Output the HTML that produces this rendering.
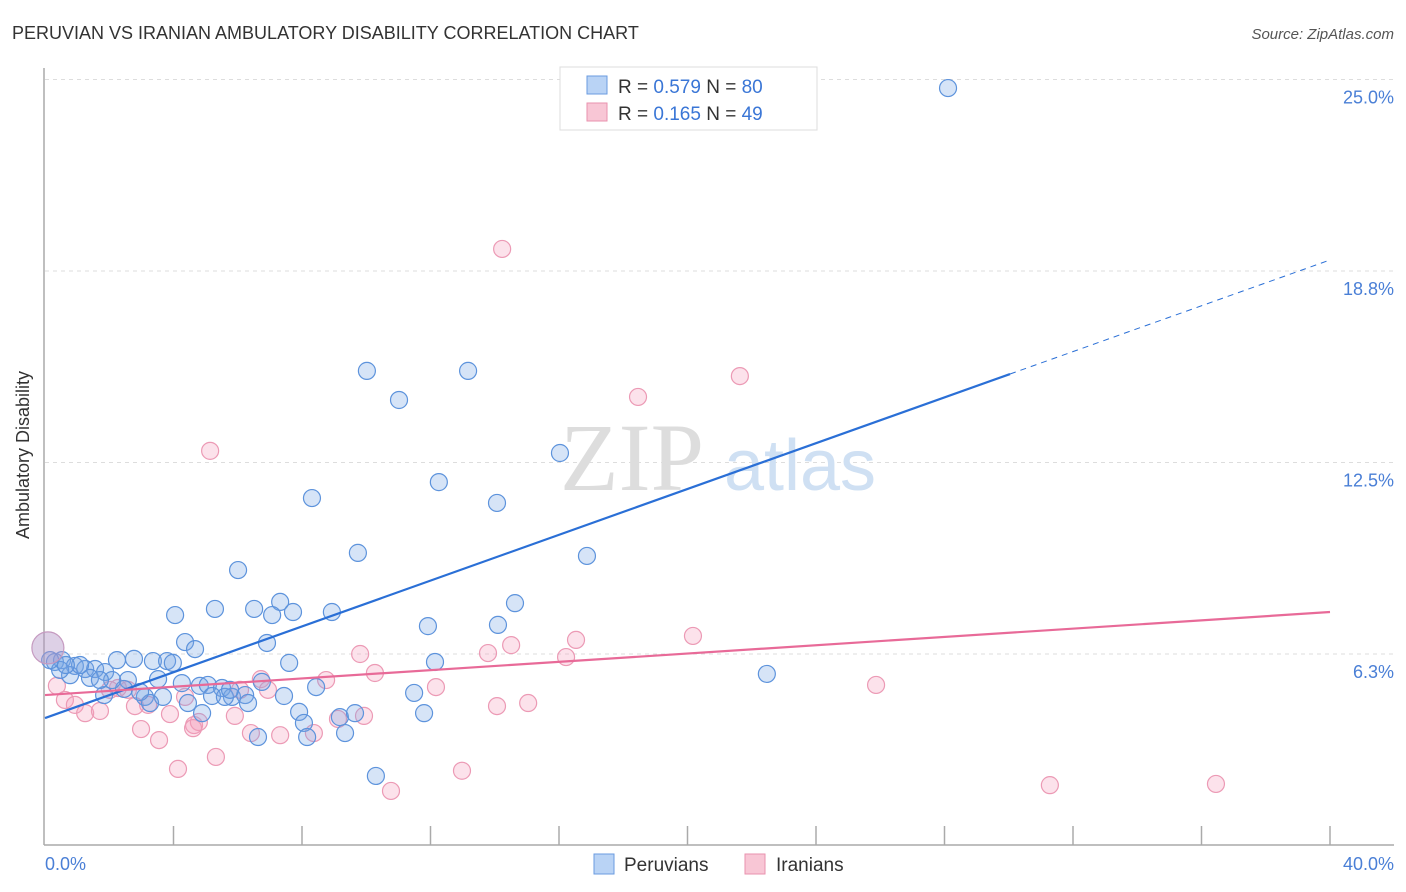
<!DOCTYPE html>
<html><head><meta charset="utf-8"><style>
body{margin:0;background:#fff;font-family:"Liberation Sans",sans-serif}
svg{display:block}
</style></head><body>
<svg width="1406" height="892">
<text x="12" y="39" font-size="18" fill="#333">PERUVIAN VS IRANIAN AMBULATORY DISABILITY CORRELATION CHART</text>
<text x="1394" y="39" font-size="15" fill="#555" font-style="italic" text-anchor="end">Source: ZipAtlas.com</text>
<g id="grid"></g>
<text x="632" y="490" font-size="96" fill="#ddd" font-family="Liberation Serif,serif" text-anchor="middle">ZIP</text>
<text x="800" y="490" font-size="72" fill="#cfe0f3" text-anchor="middle">atlas</text>
<g id="pts"></g>
<g id="lines"></g>
<text x="29" y="455" font-size="18" fill="#333" text-anchor="middle" transform="rotate(-90 29 455)">Ambulatory Disability</text>
<text x="45" y="870" font-size="18" fill="#4a7fd6">0.0%</text>
<text x="1394" y="870" font-size="18" fill="#4a7fd6" text-anchor="end">40.0%</text>
<g>
<rect x="560" y="67" width="257" height="63" fill="#fff" stroke="#ddd"/>
<rect x="587" y="76" width="20" height="18" fill="#b9d3f5" stroke="#6a9be0"/>
<rect x="587" y="103" width="20" height="18" fill="#f8c6d5" stroke="#e992ae"/>
<text x="618" y="93" font-size="19" fill="#333">R = <tspan fill="#3a76d6">0.579</tspan>   N = <tspan fill="#3a76d6">80</tspan></text>
<text x="618" y="120" font-size="19" fill="#333">R =  <tspan fill="#3a76d6">0.165</tspan>   N = <tspan fill="#3a76d6">49</tspan></text>
</g>
<g>
<rect x="594" y="854" width="20" height="20" fill="#b9d3f5" stroke="#6a9be0"/>
<text x="624" y="871" font-size="19" fill="#333">Peruvians</text>
<rect x="745" y="854" width="20" height="20" fill="#f8c6d5" stroke="#e992ae"/>
<text x="776" y="871" font-size="19" fill="#333">Iranians</text>
</g>
</svg>
<script>
const yTicks=[6.25,12.5,18.75,25];
const yTickLabels=["6.3%","12.5%","18.8%","25.0%"];
const blueX=[28.11,10.02,13.17,11.02,16.03,12.26,8.31,14.07,9.74,16.87,6.01,14.63,7.32,5.29,6.51,7.72,8.93,4.05,7.07,11.92,14.10,6.91,4.36,4.67,2.24,2.77,3.36,3.80,3.98,7.60,12.14,22.47,0.31,0.53,0.93,1.25,1.56,1.87,0.78,1.40,2.58,3.52,4.26,4.82,5.07,5.51,6.75,8.44,11.49,1.84,2.46,3.11,3.67,4.45,5.20,5.82,6.23,6.32,7.44,3.27,5.60,7.91,4.89,8.06,9.18,9.65,11.80,8.16,6.63,9.34,10.30,2.09,2.96,0.47,1.09,0.16,0.65,1.71,5.76];
const blueY=[24.72,15.49,15.49,14.54,12.81,11.86,11.34,11.18,9.55,9.45,8.99,7.91,7.95,7.72,7.72,7.62,7.62,7.52,7.52,7.16,7.20,6.61,6.64,6.41,6.05,6.09,6.02,6.02,5.96,5.96,5.99,5.60,5.99,6.05,5.86,5.76,5.76,5.66,5.56,5.47,5.40,5.43,5.30,5.21,5.24,5.14,5.34,5.17,4.98,4.91,5.11,4.85,4.85,4.65,4.88,4.85,4.91,4.65,4.88,4.65,4.85,4.36,4.32,4.00,4.19,4.32,4.32,3.54,3.54,3.67,2.27,5.40,5.01,5.73,5.89,6.05,5.89,5.40,5.08];
const pinkX=[14.23,21.63,18.46,5.14,20.17,16.53,14.51,13.79,9.81,16.22,10.27,8.75,6.72,6.94,12.17,25.87,0.37,0.62,0.93,1.25,1.71,2.27,2.58,2.80,3.21,3.89,4.64,4.79,5.91,4.36,15.04,14.07,2.99,3.55,4.61,6.41,7.32,8.37,9.12,9.93,5.32,4.14,12.98,10.77,31.28,36.45,2.02,6.07];
const pinkY=[19.47,15.32,14.64,12.88,6.84,6.71,6.54,6.28,6.25,6.15,5.63,5.40,5.43,5.08,5.17,5.24,5.21,4.75,4.59,4.32,4.39,5.14,5.08,4.55,4.59,4.29,3.93,4.03,4.23,4.85,4.65,4.55,3.80,3.44,3.83,3.67,3.60,3.67,4.13,4.23,2.89,2.50,2.44,1.78,1.97,2.01,5.08,5.08];
const bigPoint=[0.09,6.45];
const blueTrend=[4.16,19.11];
const blueSolidEnd=30.04;
const pinkTrend=[4.91,7.62];
const NS="http://www.w3.org/2000/svg";
const X=v=>45+v*32.125, Y=v=>845.5-v*30.64;
function mk(t,a,p){const e=document.createElementNS(NS,t);for(const k in a)e.setAttribute(k,a[k]);p.appendChild(e);return e;}
const g=document.getElementById('grid');
yTicks.forEach((t,i)=>{
 const l=mk('line',{x1:45,x2:1394,y1:Y(t),y2:Y(t),stroke:'#ddd','stroke-dasharray':'4 4'},g);
 
 
 const tx=mk('text',{x:1394,y:Y(t)+24,'font-size':18,fill:'#4a7fd6','text-anchor':'end'},g);
 tx.textContent=yTickLabels[i];
 
 
});
mk('line',{x1:44,x2:44,y1:68,y2:845,stroke:'#aaa','stroke-width':1.5},g);
mk('line',{x1:44,x2:1394,y1:845,y2:845,stroke:'#aaa','stroke-width':1.5},g);
for(let i=1;i<=10;i++){const t=mk('line',{x1:X(i*4),x2:X(i*4),y1:826,y2:845,stroke:'#aaa','stroke-width':1.5},g);
 
 }
const p=document.getElementById('pts');
pinkX.forEach((x,i)=>{const c=mk('circle',{cx:X(x),cy:Y(pinkY[i]),r:8.5,fill:'rgba(244,160,188,0.3)',stroke:'#ec9ab5','stroke-width':1.2},p);
 
 });
blueX.forEach((x,i)=>{const c=mk('circle',{cx:X(x),cy:Y(blueY[i]),r:8.5,fill:'rgba(120,165,230,0.3)',stroke:'#5d93dc','stroke-width':1.2},p);
 
 });
const bp=mk('circle',{cx:X(bigPoint[0]),cy:Y(bigPoint[1]),r:16,fill:'rgba(180,150,200,0.45)',stroke:'#c59ac0','stroke-width':1.2},p);


const L=document.getElementById('lines');
const bAt=x=>blueTrend[0]+(blueTrend[1]-blueTrend[0])*x/40;
let l1=mk('line',{x1:X(0),y1:Y(blueTrend[0]),x2:X(blueSolidEnd),y2:Y(bAt(blueSolidEnd)),stroke:'#2a6fd6','stroke-width':2.2},L);


let l2=mk('line',{x1:X(blueSolidEnd),y1:Y(bAt(blueSolidEnd)),x2:X(40),y2:Y(blueTrend[1]),stroke:'#2a6fd6','stroke-width':1,'stroke-dasharray':'6 5'},L);


let l3=mk('line',{x1:X(0),y1:Y(pinkTrend[0]),x2:X(40),y2:Y(pinkTrend[1]),stroke:'#e86a98','stroke-width':2.2},L);


</script>
</body></html>
